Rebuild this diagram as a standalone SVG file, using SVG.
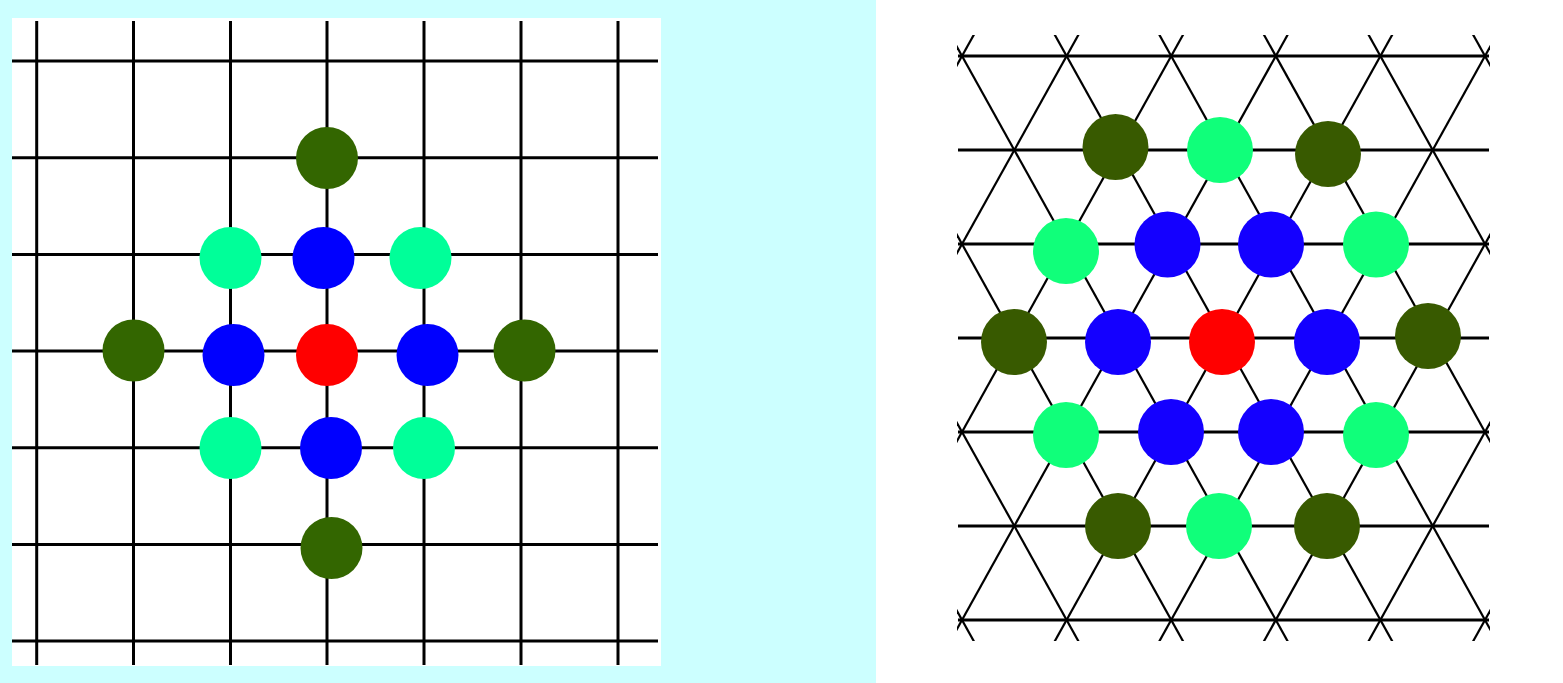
<svg xmlns="http://www.w3.org/2000/svg" width="1563" height="683" viewBox="0 0 1563 683">
<style>
.g{stroke:#000;stroke-width:3;fill:none}
.d{stroke:#000;stroke-width:2.2;fill:none}
.dg{fill:#336600}.lg{fill:#00ff99}.bl{fill:#0000ff}.rd{fill:#ff0000}
.dg2{fill:#385a00}.lg2{fill:#10ff7a}.bl2{fill:#1400ff}.rd2{fill:#ff0000}
</style>
<defs>
<clipPath id="rc"><rect x="957" y="35" width="533" height="606"/></clipPath>
</defs>
<rect x="0" y="0" width="1563" height="683" fill="#ffffff"/>
<rect x="0" y="0" width="876" height="683" fill="#ccffff"/>
<rect x="12" y="18" width="649" height="648" fill="#ffffff"/>
<g id="connectors">
<g id="square-grid" class="g">
<line x1="36.7" y1="21" x2="36.7" y2="665"/>
<line x1="133.5" y1="21" x2="133.5" y2="665"/>
<line x1="230.5" y1="21" x2="230.5" y2="665"/>
<line x1="327" y1="21" x2="327" y2="665"/>
<line x1="424" y1="21" x2="424" y2="665"/>
<line x1="521" y1="21" x2="521" y2="665"/>
<line x1="618" y1="21" x2="618" y2="665"/>
<line x1="12" y1="61" x2="658" y2="61"/>
<line x1="12" y1="157.7" x2="658" y2="157.7"/>
<line x1="12" y1="254.4" x2="658" y2="254.4"/>
<line x1="12" y1="351" x2="658" y2="351"/>
<line x1="12" y1="447.8" x2="658" y2="447.8"/>
<line x1="12" y1="544.5" x2="658" y2="544.5"/>
<line x1="12" y1="641" x2="658" y2="641"/>
</g>
<g id="tri-grid">
<g class="g">
<line x1="958" y1="56" x2="1489" y2="56"/>
<line x1="958" y1="150" x2="1489" y2="150"/>
<line x1="958" y1="244" x2="1489" y2="244"/>
<line x1="958" y1="338" x2="1489" y2="338"/>
<line x1="958" y1="432" x2="1489" y2="432"/>
<line x1="958" y1="526" x2="1489" y2="526"/>
<line x1="958" y1="620" x2="1489" y2="620"/>
</g>
<g class="d" clip-path="url(#rc)">
<line x1="633.7" y1="30" x2="976.5" y2="646"/>
<line x1="738.3" y1="30" x2="1081.1" y2="646"/>
<line x1="842.9" y1="30" x2="1185.7" y2="646"/>
<line x1="947.5" y1="30" x2="1290.3" y2="646"/>
<line x1="1052.1" y1="30" x2="1394.9" y2="646"/>
<line x1="1156.7" y1="30" x2="1499.5" y2="646"/>
<line x1="1261.3" y1="30" x2="1604.1" y2="646"/>
<line x1="1365.9" y1="30" x2="1708.7" y2="646"/>
<line x1="1470.5" y1="30" x2="1813.3" y2="646"/>
<line x1="976.5" y1="30" x2="633.7" y2="646"/>
<line x1="1081.1" y1="30" x2="738.3" y2="646"/>
<line x1="1185.7" y1="30" x2="842.9" y2="646"/>
<line x1="1290.3" y1="30" x2="947.5" y2="646"/>
<line x1="1394.9" y1="30" x2="1052.1" y2="646"/>
<line x1="1499.5" y1="30" x2="1156.7" y2="646"/>
<line x1="1604.1" y1="30" x2="1261.3" y2="646"/>
<line x1="1708.7" y1="30" x2="1365.9" y2="646"/>
<line x1="1813.3" y1="30" x2="1470.5" y2="646"/>
</g>
</g>
</g>
<g id="left-nodes">
<g id="L-top"><circle class="dg" cx="327" cy="158" r="31"/></g>
<g id="L-left"><circle class="dg" cx="133.5" cy="350.5" r="31"/></g>
<g id="L-right"><circle class="dg" cx="524.5" cy="350.5" r="31"/></g>
<g id="L-bottom"><circle class="dg" cx="331.5" cy="548" r="31"/></g>
<g id="L-lg1"><circle class="lg" cx="230.5" cy="258" r="31"/></g>
<g id="L-lg2"><circle class="lg" cx="420.5" cy="258" r="31"/></g>
<g id="L-lg3"><circle class="lg" cx="230.5" cy="448" r="31"/></g>
<g id="L-lg4"><circle class="lg" cx="424" cy="448" r="31"/></g>
<g id="L-b1"><circle class="bl" cx="323.5" cy="258" r="31"/></g>
<g id="L-b2"><circle class="bl" cx="233.5" cy="355" r="31"/></g>
<g id="L-b3"><circle class="bl" cx="427.5" cy="355" r="31"/></g>
<g id="L-b4"><circle class="bl" cx="331" cy="448" r="31"/></g>
<g id="L-center"><circle class="rd" cx="327" cy="355" r="31"/></g>
</g>
<g id="right-nodes">
<g id="R-dg1"><circle class="dg2" cx="1115.5" cy="147" r="33"/></g>
<g id="R-lg1"><circle class="lg2" cx="1220" cy="150" r="33"/></g>
<g id="R-dg2"><circle class="dg2" cx="1328" cy="154" r="33"/></g>
<g id="R-lg2"><circle class="lg2" cx="1066" cy="251" r="33"/></g>
<g id="R-b1"><circle class="bl2" cx="1167.5" cy="244.5" r="33"/></g>
<g id="R-b2"><circle class="bl2" cx="1271" cy="244.5" r="33"/></g>
<g id="R-lg3"><circle class="lg2" cx="1376" cy="244.5" r="33"/></g>
<g id="R-dg3"><circle class="dg2" cx="1014" cy="342" r="33"/></g>
<g id="R-b3"><circle class="bl2" cx="1118" cy="342" r="33"/></g>
<g id="R-center"><circle class="rd2" cx="1222" cy="342" r="33"/></g>
<g id="R-b4"><circle class="bl2" cx="1327" cy="342" r="33"/></g>
<g id="R-dg4"><circle class="dg2" cx="1428" cy="336" r="33"/></g>
<g id="R-lg4"><circle class="lg2" cx="1066" cy="435" r="33"/></g>
<g id="R-b5"><circle class="bl2" cx="1171" cy="432" r="33"/></g>
<g id="R-b6"><circle class="bl2" cx="1271" cy="432" r="33"/></g>
<g id="R-lg5"><circle class="lg2" cx="1376" cy="435" r="33"/></g>
<g id="R-dg5"><circle class="dg2" cx="1118" cy="526" r="33"/></g>
<g id="R-lg6"><circle class="lg2" cx="1219" cy="526" r="33"/></g>
<g id="R-dg6"><circle class="dg2" cx="1327" cy="526" r="33"/></g>
</g>
</svg>
